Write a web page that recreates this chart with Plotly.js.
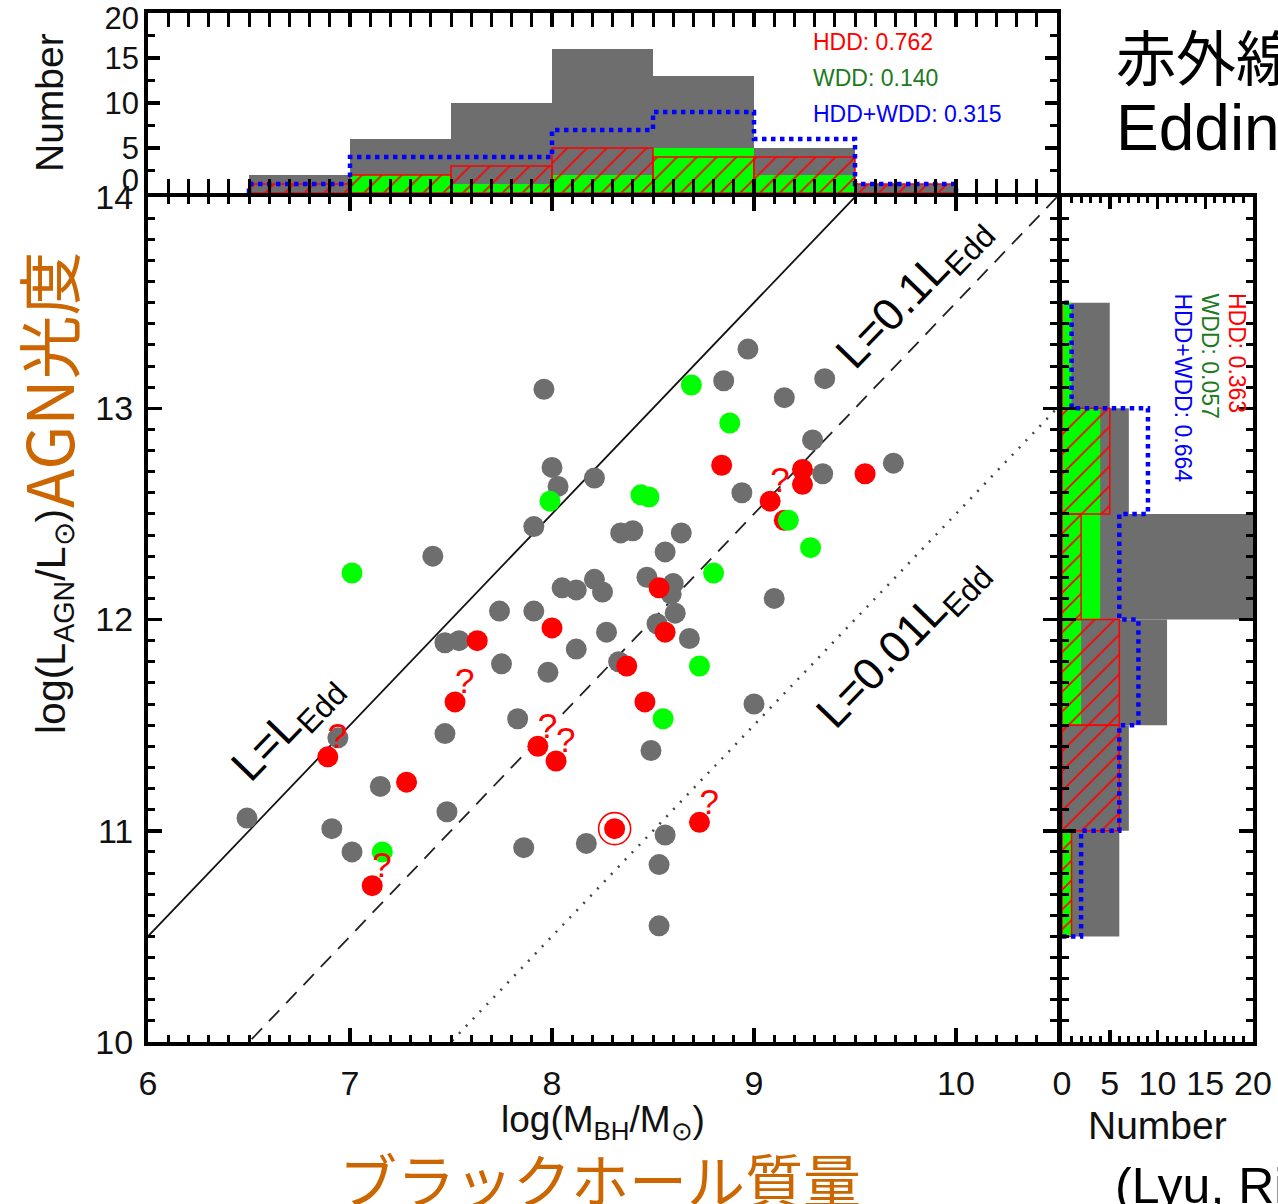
<!DOCTYPE html>
<html>
<head>
<meta charset="utf-8">
<script src="https://cdn.plot.ly/plotly-3.0.1.min.js"></script>
<style>html,body{margin:0;padding:0;background:#fff;}#chart{width:1278px;height:1204px;}</style>
</head>
<body>
<div id="chart"></div>
<script>
// ---------- data ----------
const grayX = [6.49,6.91,7.01,6.94,7.15,7.41,7.47,7.54,7.47,7.48,7.74,7.75,7.83,7.86,7.91,7.96,8.00,8.03,7.91,8.21,8.05,8.12,8.21,8.25,8.27,8.12,7.98,8.33,8.34,8.40,8.64,8.56,8.47,8.60,8.59,8.61,8.52,8.68,8.49,8.17,8.56,8.53,8.53,9.00,8.97,8.85,8.94,9.35,9.15,9.29,9.34,9.69,9.10];
const grayY = [11.06,11.01,10.90,11.44,11.21,12.30,11.89,11.90,11.46,11.09,12.04,11.79,11.53,10.92,12.04,13.09,12.72,12.63,12.44,12.67,12.15,12.14,12.19,12.13,11.94,11.86,11.75,11.80,12.41,12.42,12.41,12.32,12.20,12.17,12.12,12.03,11.98,11.91,11.38,10.94,10.98,10.84,10.55,11.60,13.28,13.13,12.60,13.14,13.05,12.85,12.69,12.74,12.10];

const redX = [7.63,7.52,6.89,7.28,7.11,8.00,8.53,8.56,8.37,8.46,7.93,8.02,8.31,8.73,8.84,9.24,9.55,9.24,9.08,9.15];
const redY = [11.90,11.61,11.35,11.23,10.74,11.96,12.15,11.94,11.78,11.61,11.40,11.33,11.01,11.04,12.73,12.71,12.69,12.64,12.56,12.47];
const redQuestion = [0,1,1,0,1,0,0,0,0,0,1,1,0,1,0,0,0,0,1,0];
const redRingIndex = 12;

const greenX = [7.01,7.99,7.16,8.69,8.88,8.44,8.48,8.80,8.73,8.55,9.17,9.28];
const greenY = [12.22,12.56,10.90,13.11,12.93,12.59,12.58,12.22,11.78,11.53,12.47,12.34];

// Eddington-ratio reference lines (end points)
const lineX = [6, 10.5];
const lineEddY = [10.5, 15.0];
const line01Y = [9.5, 14.0];
const line001Y = [8.5, 13.0];

// top histogram (log M_BH bins)
const massEdges = [6.5,7.0,7.5,8.0,8.5,9.0,9.5,10.0];
const massAll   = [2,6,10,16,13,5,1];
const massHDD   = [1,2,3,5,4,4,1];
const massWDD   = [0,2,1,2,5,2,0];
const massBoth  = [1,4,4,7,9,6,1];

// right histogram (log L_AGN bins)
const lumEdges = [10.5,11.0,11.5,12.0,12.5,13.0,13.5];
const lumAll   = [6,7,11,20,7,5];
const lumHDD   = [1,6,6,2,5,0];
const lumWDD   = [1,0,2,4,4,1];
const lumBoth  = [2,6,8,6,9,1];

const numberTicks = ["0","5","10","15","20"];
const massStats = ["HDD: 0.762","WDD: 0.140","HDD+WDD: 0.315"];
const lumStats  = ["HDD: 0.363","WDD: 0.057","HDD+WDD: 0.664"];

// ---------- helpers ----------
const W = 1278, H = 1204;
const px = v => v / W;
const py = v => 1 - v / H;
const centers = e => e.slice(0,-1).map((v,i)=>(v+e[i+1])/2);
function stepXY(edges, vals){
  const a=[edges[0]], b=[0];
  vals.forEach((v,i)=>{a.push(edges[i],edges[i+1]); b.push(v,v);});
  a.push(edges[edges.length-1]); b.push(0);
  return [a,b];
}
const GRAY='#6e6e6e', RED='#ff0000', GREEN='#00ff00', BLUE='#0000ff', ORANGE='#cc6600';
const FONT='Liberation Sans, Arial, sans-serif';
const JFONT='Noto Sans CJK JP, sans-serif';
const hatch = {color:'rgba(0,0,0,0)', line:{color:RED,width:1.5},
  pattern:{shape:'/', fgcolor:RED, bgcolor:'rgba(0,0,0,0)', size:14, solidity:0.12, fillmode:'replace'}};

const mC = centers(massEdges), lC = centers(lumEdges);
const [mSx, mSy] = stepXY(massEdges, massBoth);
const [lSy, lSx] = stepXY(lumEdges, lumBoth);

const qX=[], qY=[];
redQuestion.forEach((q,i)=>{ if(q){qX.push(redX[i]); qY.push(redY[i]);} });

const traces = [
  // reference lines
  {x:lineX, y:lineEddY, mode:'lines', line:{color:'#111', width:1.8}, xaxis:'x', yaxis:'y'},
  {x:lineX, y:line01Y, mode:'lines', line:{color:'#222', width:1.8, dash:'15px,10px'}, xaxis:'x', yaxis:'y'},
  {x:lineX, y:line001Y, mode:'lines', line:{color:'#444', width:2.5, dash:'2px,8px'}, xaxis:'x', yaxis:'y'},
  // points
  {x:grayX, y:grayY, mode:'markers', marker:{size:21, color:GRAY}, xaxis:'x', yaxis:'y'},
  {x:[redX[redRingIndex]], y:[redY[redRingIndex]], mode:'markers', marker:{symbol:'circle-open', size:32, color:RED, line:{width:1.6, color:RED}}, xaxis:'x', yaxis:'y'},
  {x:redX, y:redY, mode:'markers', marker:{size:21, color:RED}, xaxis:'x', yaxis:'y'},
  {x:greenX, y:greenY, mode:'markers', marker:{size:21, color:GREEN}, xaxis:'x', yaxis:'y'},
  {x:qX, y:qY, mode:'text', text:qX.map(()=>'?'), textposition:'top right', marker:{size:18},
   textfont:{family:FONT, size:35, color:RED}, xaxis:'x', yaxis:'y'},
  // top histogram
  {type:'bar', x:mC, y:massAll, width:0.5, marker:{color:GRAY, line:{width:0}}, xaxis:'x2', yaxis:'y2'},
  {type:'bar', x:mC, y:massWDD, width:0.5, marker:{color:GREEN, line:{width:0}}, xaxis:'x2', yaxis:'y2'},
  {type:'bar', x:mC, y:massHDD, width:0.5, marker:hatch, xaxis:'x2', yaxis:'y2'},
  {x:mSx, y:mSy, mode:'lines', line:{color:BLUE, width:4.5, dash:'dot'}, xaxis:'x2', yaxis:'y2'},
  {x:[mC[0]], y:[0], mode:'markers', marker:{opacity:0}, xaxis:'x2', yaxis:'y4', hoverinfo:'skip'},
  // right histogram
  {type:'bar', orientation:'h', y:lC, x:lumAll, width:0.5, marker:{color:GRAY, line:{width:0}}, xaxis:'x3', yaxis:'y3'},
  {type:'bar', orientation:'h', y:lC, x:lumWDD, width:0.5, marker:{color:GREEN, line:{width:0}}, xaxis:'x3', yaxis:'y3'},
  {type:'bar', orientation:'h', y:lC, x:lumHDD, width:0.5, marker:hatch, xaxis:'x3', yaxis:'y3'},
  {x:lSx, y:lSy, mode:'lines', line:{color:BLUE, width:4.5, dash:'dot'}, xaxis:'x3', yaxis:'y3'}
];

const axBase = {showline:true, linewidth:4, linecolor:'#000', mirror:'allticks', ticks:'inside',
  tickwidth:3.5, ticklen:14, tickcolor:'#000', showgrid:false, zeroline:false,
  tickfont:{family:FONT, size:34, color:'#111'}};
const minor01 = {dtick:0.1, ticklen:7, tickwidth:3, tickcolor:'#000', ticks:'inside', showgrid:false};

const xMainDom = [px(148), px(1057)];
const yMainDom = [py(1042), py(197)];

const ann = [];
function A(o){ ann.push(Object.assign({xref:'paper', yref:'paper', showarrow:false, font:{family:FONT,size:30,color:'#111'}}, o)); }
// axis titles
A({x:px(603), y:py(1122), text:'log(M<sub>BH</sub>/M<sub>⊙</sub>)', font:{family:FONT,size:37,color:'#111'}, xanchor:'center', yanchor:'middle'});
A({x:px(600), y:py(1178), text:'ブラックホール質量', font:{family:JFONT,size:58,color:ORANGE}, xanchor:'center', yanchor:'middle'});
A({x:px(54), y:py(622), text:'log(L<sub>AGN</sub>/L<sub>⊙</sub>)', textangle:-90, font:{family:FONT,size:41,color:'#111'}, xanchor:'center', yanchor:'middle'});
A({x:px(46), y:py(380), text:'AGN光度', textangle:-90, font:{family:JFONT,size:64,color:ORANGE}, xanchor:'center', yanchor:'middle'});
A({x:px(50), y:py(103), text:'Number', textangle:-90, font:{family:FONT,size:39,color:'#111'}, xanchor:'center', yanchor:'middle'});
A({x:px(1157), y:py(1125), text:'Number', font:{family:FONT,size:39,color:'#111'}, xanchor:'center', yanchor:'middle'});
// histogram statistics
const statCols = [RED, '#1e7a1e', BLUE];
massStats.forEach((t,i)=>A({x:px(811), y:py(42+36*i), text:t, font:{family:FONT,size:23,color:statCols[i]}, xanchor:'left', yanchor:'middle'}));
lumStats.forEach((t,i)=>A({x:px(1237-27*i), y:py(291), text:t, textangle:90, font:{family:FONT,size:23,color:statCols[i]}, xanchor:'center', yanchor:'top'}));
// top right / bottom right text (cut by page edge)
A({x:px(1114), y:py(54), text:'赤外線', font:{family:JFONT,size:60,color:'#000'}, xanchor:'left', yanchor:'middle'});
A({x:px(1114), y:py(128), text:'Eddington', font:{family:FONT,size:64,color:'#000'}, xanchor:'left', yanchor:'middle'});
A({x:px(1113), y:py(1186), text:'(Lyu, Rieke', font:{family:FONT,size:50,color:'#000'}, xanchor:'left', yanchor:'middle'});
// line labels
const lineLab = [
  {x:6.69, y:11.49, t:'L=L<sub>Edd</sub>'},
  {x:9.79, y:13.55, t:'L=0.1L<sub>Edd</sub>'},
  {x:9.74, y:11.89, t:'L=0.01L<sub>Edd</sub>'}
];
lineLab.forEach(l=>ann.push({xref:'x', yref:'y', x:l.x, y:l.y, text:l.t, textangle:-46, showarrow:false,
  font:{family:FONT, size:45, color:'#000'}, xanchor:'center', yanchor:'middle'}));

const layout = {
  width:W, height:H, margin:{l:0,r:0,t:0,b:0}, paper_bgcolor:'#fff', plot_bgcolor:'rgba(0,0,0,0)',
  showlegend:false, barmode:'overlay',
  xaxis: Object.assign({}, axBase, {domain:xMainDom, range:[6,10.5], dtick:1, tick0:6, anchor:'y', minor:minor01, ticklabelstandoff:8}),
  yaxis: Object.assign({}, axBase, {domain:yMainDom, range:[10,14], dtick:1, tick0:10, anchor:'x', minor:minor01, ticklabelstandoff:4}),
  xaxis2: Object.assign({}, axBase, {domain:xMainDom, range:[6,10.5], dtick:1, tick0:6, anchor:'y2', showticklabels:false, minor:minor01}),
  yaxis2: Object.assign({}, axBase, {domain:[py(193), py(13)], range:[0,20], dtick:5, tick0:0, anchor:'x2', ticklen:12,
     showticklabels:false, minor:{dtick:2.5, ticklen:7, tickwidth:3, tickcolor:'#000', ticks:'inside'}}),
  yaxis4: {overlaying:'y2', anchor:'x2', side:'left', range:[0,20], showline:false, showgrid:false, zeroline:false, ticks:'',
     tickmode:'array', tickvals:[1.4,5,10,15,19.4], ticktext:numberTicks, tickfont:{family:FONT,size:31,color:'#111'}, ticklabelstandoff:8},
  xaxis3: Object.assign({}, axBase, {domain:[px(1062), px(1253)], range:[0,20], dtick:5, tick0:0, anchor:'y3', ticklen:12,
     minor:{dtick:1, ticklen:6, tickwidth:3, tickcolor:'#000', ticks:'inside'}, ticklabelstandoff:8}),
  yaxis3: Object.assign({}, axBase, {domain:yMainDom, range:[10,14], dtick:1, tick0:10, anchor:'x3', showticklabels:false, minor:minor01}),
  annotations: ann
};

Plotly.newPlot('chart', traces, layout, {staticPlot:true, displayModeBar:false});
</script>
</body>
</html>
